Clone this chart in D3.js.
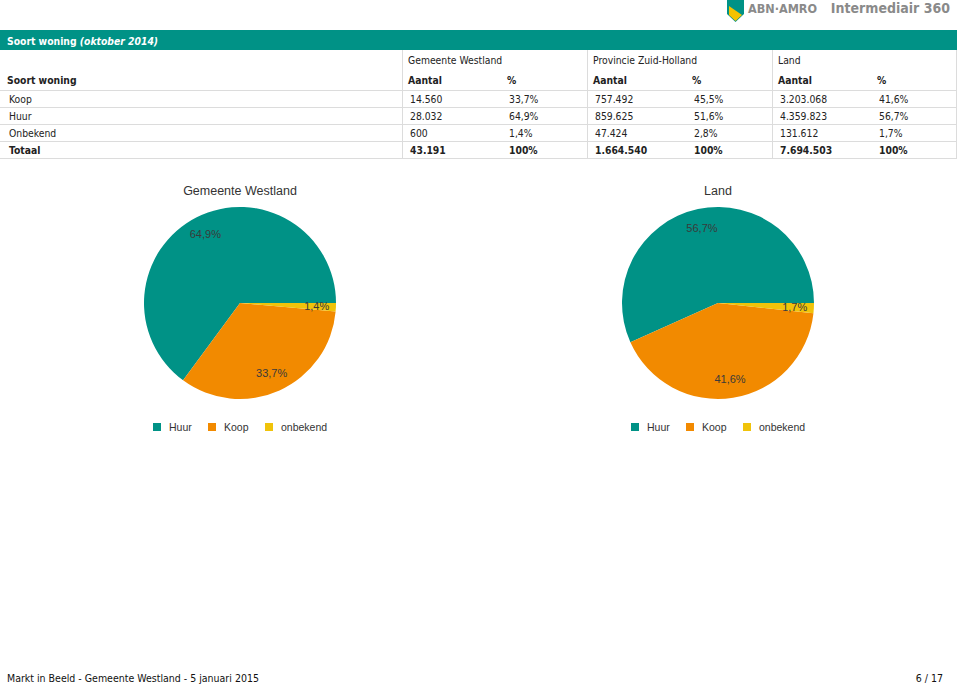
<!DOCTYPE html>
<html>
<head>
<meta charset="utf-8">
<script src="https://cdn.jsdelivr.net/npm/d3@7"></script>
<style>
  body { margin: 0; background: #fff; }
  svg { display: block; }
  .cell { font-family: "DejaVu Sans Condensed", "DejaVu Sans", sans-serif; font-stretch: condensed; font-size: 10.3px; fill: #222; }
  .bold { font-weight: bold; }
  .grid { stroke: #dcdcdc; stroke-width: 1; }
  .chart { font-family: "Liberation Sans", Arial, sans-serif; fill: #333; }
</style>
</head>
<body>
<svg id="page" width="959" height="685"></svg>
<script>
// table data
const rowLabels = ["Koop", "Huur", "Onbekend"];
const regions = ["Gemeente Westland", "Provincie Zuid-Holland", "Land"];
const westlandAantal = [14560, 28032, 600];
const westlandPct = [33.7, 64.9, 1.4];
const zuidHollandAantal = [757492, 859625, 47424];
const zuidHollandPct = [45.5, 51.6, 2.8];
const landAantal = [3203068, 4359823, 131612];
const landPct = [41.6, 56.7, 1.7];
const totals = [43191, 1664540, 7694503];

// pie data (legend order)
const pieCategories = ["Huur", "Koop", "onbekend"];
const pieWestland = [64.9, 33.7, 1.4];
const pieLand = [56.7, 41.6, 1.7];
const pieColors = ["#009286", "#f28a00", "#f0c30a"];

const nl = d3.formatLocale({ decimal: ",", thousands: ".", grouping: [3], currency: ["€", ""] });
const fmtInt = nl.format(",d");
const fmtPct = v => nl.format(".1f")(v) + "%";

const svg = d3.select("#page");

// ---------- logo ----------
const logo = svg.append("g");
logo.append("path").attr("d", "M727,0 L744,0 L744,14 L735.5,22 L727,14 Z").attr("fill", "#009286");
logo.append("path").attr("d", "M729,6 L742,15 L735.5,21 L729,15 Z").attr("fill", "#f5c200");
logo.append("text").attr("x", 748).attr("y", 13)
  .style("font-family", "'DejaVu Sans Condensed', 'DejaVu Sans', sans-serif").style("font-stretch", "condensed")
  .style("font-size", "12.5px").style("font-weight", "bold").attr("fill", "#8a8a8a")
  .text("ABN·AMRO");
logo.append("text").attr("x", 950).attr("y", 13).attr("text-anchor", "end")
  .style("font-family", "'DejaVu Sans Condensed', 'DejaVu Sans', sans-serif").style("font-stretch", "condensed")
  .style("font-size", "14px").style("font-weight", "bold").attr("fill", "#8a8a8a")
  .text("Intermediair 360");

// ---------- table ----------
svg.append("rect").attr("x", 0).attr("y", 30).attr("width", 957).attr("height", 20).attr("fill", "#009286");
const title = svg.append("text").attr("class", "cell bold").attr("x", 7).attr("y", 44.5).style("fill", "#fff");
title.append("tspan").text("Soort woning ");
title.append("tspan").style("font-style", "italic").text("(oktober 2014)");

const colX = [402, 587, 772];
const rowLines = [90, 107, 124, 141, 158];
rowLines.forEach(y => svg.append("line").attr("class", "grid").attr("x1", 0).attr("x2", 957).attr("y1", y + 0.5).attr("y2", y + 0.5));
colX.forEach(x => svg.append("line").attr("class", "grid").attr("x1", x + 0.5).attr("x2", x + 0.5).attr("y1", 50).attr("y2", 158));
svg.append("line").attr("class", "grid").attr("x1", 956.5).attr("x2", 956.5).attr("y1", 50).attr("y2", 158);

const rowY = [103, 120, 137];
const totalY = 154;
svg.append("text").attr("class", "cell bold").attr("x", 7).attr("y", 84).text("Soort woning");
rowLabels.forEach((r, i) => svg.append("text").attr("class", "cell").attr("x", 9).attr("y", rowY[i]).text(r));
svg.append("text").attr("class", "cell bold").attr("x", 9).attr("y", totalY).text("Totaal");

const regionData = [
  { aantal: westlandAantal, pct: westlandPct },
  { aantal: zuidHollandAantal, pct: zuidHollandPct },
  { aantal: landAantal, pct: landPct }
];
regions.forEach((name, j) => {
  const x0 = colX[j] + 6;
  const xp = colX[j] + 105;
  svg.append("text").attr("class", "cell").attr("x", x0).attr("y", 64).text(name);
  svg.append("text").attr("class", "cell bold").attr("x", x0).attr("y", 84).text("Aantal");
  svg.append("text").attr("class", "cell bold").attr("x", xp).attr("y", 84).text("%");
  regionData[j].aantal.forEach((v, i) => {
    svg.append("text").attr("class", "cell").attr("x", x0 + 2).attr("y", rowY[i]).text(fmtInt(v));
    svg.append("text").attr("class", "cell").attr("x", xp + 2).attr("y", rowY[i]).text(fmtPct(regionData[j].pct[i]));
  });
  svg.append("text").attr("class", "cell bold").attr("x", x0 + 2).attr("y", totalY).text(fmtInt(totals[j]));
  svg.append("text").attr("class", "cell bold").attr("x", xp + 2).attr("y", totalY).text("100%");
});

// ---------- pies ----------
const color = d3.scaleOrdinal().domain(pieCategories).range(pieColors);
const pie = d3.pie().sort(null)
  .startAngle(Math.PI / 2).endAngle(Math.PI / 2 - 2 * Math.PI)
  .value(d => d.value);

function drawPie(cx, name, values) {
  const r = 96;
  const g = svg.append("g");
  g.append("text").attr("class", "chart").attr("x", cx).attr("y", 195)
    .attr("text-anchor", "middle").style("font-size", "12.5px").text(name);

  const data = pieCategories.map((c, i) => ({ cat: c, value: values[i] }));
  const arc = d3.arc().innerRadius(0).outerRadius(r);
  const labelArc = d3.arc().innerRadius(r * 0.8).outerRadius(r * 0.8);
  const pg = g.append("g").attr("transform", `translate(${cx},303)`);
  const arcs = pie(data);
  pg.selectAll("path").data(arcs).join("path")
    .attr("d", arc).attr("fill", d => color(d.data.cat));
  pg.selectAll("text").data(arcs).join("text")
    .attr("class", "chart")
    .attr("transform", d => `translate(${labelArc.centroid(d)})`)
    .attr("text-anchor", "middle").attr("dy", "0.35em")
    .style("font-size", "11px").style("fill", "#3a3a3a")
    .text(d => fmtPct(d.data.value));

  // legend
  const lx = cx - 87;
  const legX = [0, 55, 112];
  pieCategories.forEach((c, i) => {
    svg.append("rect").attr("x", lx + legX[i]).attr("y", 423).attr("width", 8).attr("height", 8).attr("fill", color(c));
    svg.append("text").attr("class", "chart").attr("x", lx + legX[i] + 16).attr("y", 431)
      .style("font-size", "10.5px").text(c);
  });
}
drawPie(240, "Gemeente Westland", pieWestland);
drawPie(718, "Land", pieLand);

// ---------- footer ----------
svg.append("text").attr("x", 7).attr("y", 682)
  .style("font-family", "'DejaVu Sans Condensed', 'DejaVu Sans', sans-serif").style("font-stretch", "condensed")
  .style("font-size", "10.5px").attr("fill", "#111")
  .text("Markt in Beeld - Gemeente Westland - 5 januari 2015");
svg.append("text").attr("x", 943).attr("y", 682).attr("text-anchor", "end")
  .style("font-family", "'DejaVu Sans Condensed', 'DejaVu Sans', sans-serif").style("font-stretch", "condensed")
  .style("font-size", "10.5px").attr("fill", "#111")
  .text("6 / 17");
</script>
</body>
</html>
